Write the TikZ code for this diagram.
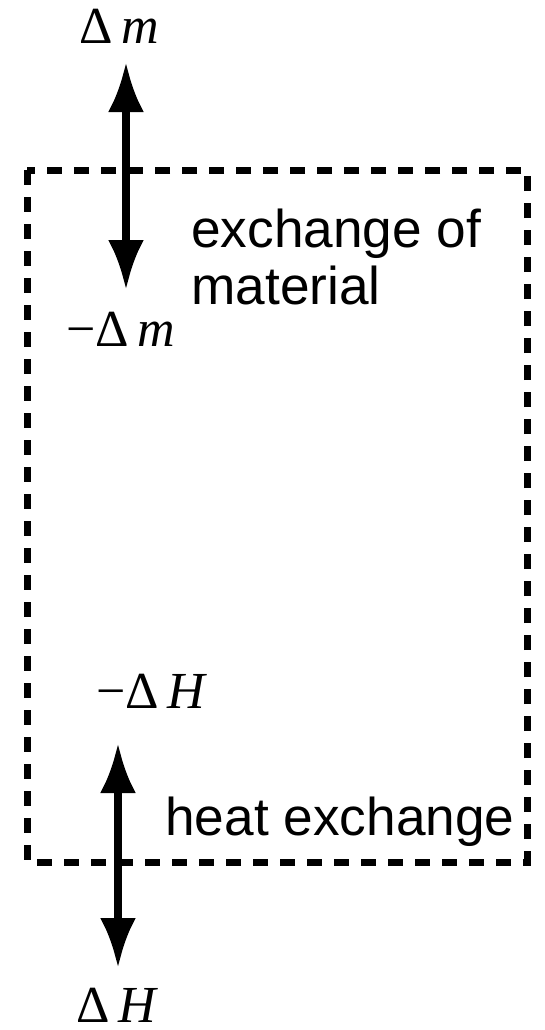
\documentclass[tikz,border=0pt]{standalone}
\usepackage{fontspec}
\setmainfont{Liberation Sans}
\newfontfamily\symfont{Liberation Serif}
\usetikzlibrary{arrows.meta}

\begin{document}
\begin{tikzpicture}[x=0.5pt,y=-0.5pt,
  txt/.style={font=\fontsize{26.6}{28.5}\selectfont,inner sep=0pt,align=left},
  qty/.style={font=\fontsize{26}{28}\symfont,inner sep=0pt,anchor=base},
  flow/.style={line width=3.8pt,{Latex[length=25pt,width=18pt]}-{Latex[length=25pt,width=18pt]}}]
  \useasboundingbox (0,0) rectangle (545,1030);
  % system boundary
  \draw[line width=3.5pt,dash pattern=on 7.5pt off 6pt] (27,170) rectangle (527,862);
  % exchange of material
  \coordinate (mtop) at (126,62);
  \coordinate (mbot) at (126,290);
  \node[qty] (dm) at (119,43) {Δ\,\textit{m}};
  \node[qty] (mdm) at (121,346) {−Δ\,\textit{m}};
  \draw[flow] (mtop) -- (mbot);
  \node[txt,anchor=west] (mat) at (191,257) {exchange of\\material};
  % heat exchange
  \coordinate (htop) at (118,743);
  \coordinate (hbot) at (118,968);
  \node[qty] (mdH) at (152,708) {−Δ\,\textit{H}};
  \node[qty] (dH) at (117,1022) {Δ\,\textit{H}};
  \draw[flow] (htop) -- (hbot);
  \node[txt,anchor=base west] (heat) at (165,835) {heat exchange};
\end{tikzpicture}
\end{document}
